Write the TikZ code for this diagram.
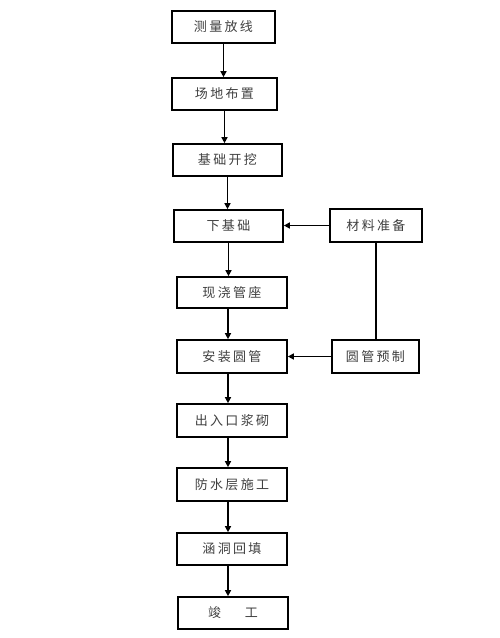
\documentclass[tikz,border=0pt]{standalone}
\usepackage{fontspec}
\newfontfamily\cjk[LetterSpace=18]{Noto Sans CJK SC}
\usetikzlibrary{arrows.meta}
\begin{document}
\begin{tikzpicture}[x=1pt,y=-1pt,
  stepbox/.style={draw, line width=1.7pt, inner sep=0pt, font=\cjk\fontsize{13}{13}\selectfont, text=black!75},
  arr/.style={line width=1.7pt, -{Triangle[length=6pt,width=6pt]}},
  ln/.style={line width=1.7pt}]
\useasboundingbox[fill=white] (0,0) rectangle (500,638);
\node[stepbox, minimum width=103pt, minimum height=32pt] (b1) at (223.5,27) {测量放线};
\node[stepbox, minimum width=105pt, minimum height=32pt] (b2) at (224.5,94) {场地布置};
\node[stepbox, minimum width=109pt, minimum height=32pt] (b3) at (227.5,160) {基础开挖};
\node[stepbox, minimum width=109pt, minimum height=32pt] (b4) at (228.5,226) {下基础};
\node[stepbox, minimum width=110pt, minimum height=31pt] (b5) at (232,292.5) {现浇管座};
\node[stepbox, minimum width=110pt, minimum height=33pt] (b6) at (232,356.5) {安装圆管};
\node[stepbox, minimum width=110pt, minimum height=33pt] (b7) at (232,420.5) {出入口浆砌};
\node[stepbox, minimum width=110pt, minimum height=33pt] (b8) at (232,484.5) {防水层施工};
\node[stepbox, minimum width=110pt, minimum height=32pt] (b9) at (232,549) {涵洞回填};
\node[stepbox, minimum width=110pt, minimum height=32pt] (b10) at (233,613) {竣\hspace{24pt}工};
\node[stepbox, minimum width=92pt, minimum height=33pt] (m1) at (376,225.5) {材料准备};
\node[stepbox, minimum width=87pt, minimum height=33pt] (m2) at (375.5,356.5) {圆管预制};
\draw[arr] (b1.south) -- (b1.south |- b2.north);
\draw[arr] (b2.south) -- (b2.south |- b3.north);
\draw[arr] (b3.south) -- (b3.south |- b4.north);
\draw[arr] (b4.south) -- (b4.south |- b5.north);
\draw[arr] ([xshift=-4pt]b5.south) -- ([xshift=-4pt]b5.south |- b6.north);
\draw[arr] ([xshift=-4pt]b6.south) -- ([xshift=-4pt]b6.south |- b7.north);
\draw[arr] ([xshift=-4pt]b7.south) -- ([xshift=-4pt]b7.south |- b8.north);
\draw[arr] ([xshift=-4pt]b8.south) -- ([xshift=-4pt]b8.south |- b9.north);
\draw[arr] ([xshift=-4pt]b9.south) -- ([xshift=-4pt]b9.south |- b10.north);
\draw[arr] (m1.west) -- (m1.west -| b4.east);
\draw[arr] (m2.west) -- (m2.west -| b6.east);
\draw[ln] (m1.south) -- (m1.south |- m2.north);
\end{tikzpicture}
\end{document}
